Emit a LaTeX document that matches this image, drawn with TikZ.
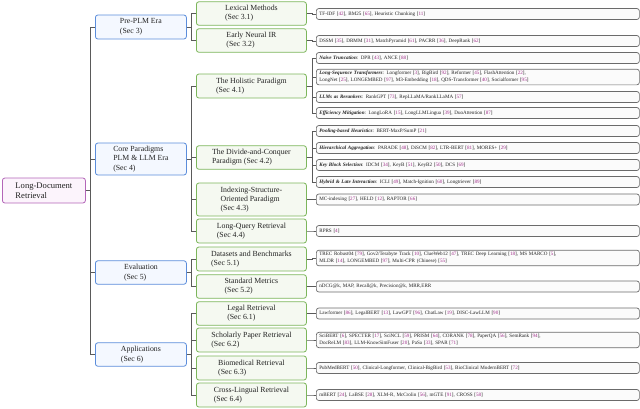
\documentclass[tikz,border=0pt]{standalone}
\usepackage{fontspec}
\setmainfont{Liberation Serif}
\usepackage{xcolor}
\definecolor{ink}{HTML}{222222}
\definecolor{wire}{HTML}{5A5A5A}
\definecolor{rootline}{HTML}{B366B8}
\definecolor{rootfill}{HTML}{FCF4FC}
\definecolor{eraline}{HTML}{5B8DDB}
\definecolor{erafill}{HTML}{F4F8FF}
\definecolor{secline}{HTML}{7CB65B}
\definecolor{secfill}{HTML}{F5F9F1}
\definecolor{leafline}{HTML}{6B6B6B}
\definecolor{leaffill}{HTML}{FBFBFB}
\definecolor{citenum}{HTML}{A0308A}
\usepackage{tikz}
\usetikzlibrary{positioning,calc}
\newcommand{\ct}[1]{[\textcolor{citenum}{#1}]}
\newcommand{\hd}[1]{\textbf{\textit{#1}}}

\begin{document}
\begin{tikzpicture}[x=1pt,y=-1pt,
  box/.style={draw,rounded corners=2.5pt,line width=0.8pt,align=left,inner sep=1pt,text=ink},
  rootbox/.style={box,draw=rootline,fill=rootfill,minimum width=83pt,minimum height=25pt,font=\fontsize{8.6}{10.5}\selectfont},
  erabox/.style={box,draw=eraline,fill=erafill,minimum width=91pt,font=\fontsize{7.8}{9.5}\selectfont},
  secbox/.style={box,draw=secline,fill=secfill,minimum width=110pt,font=\fontsize{7.8}{9.2}\selectfont},
  leaf/.style={draw=leafline,fill=leaffill,rounded corners=2.5pt,line width=0.7pt,text=ink,
    text width=317pt,align=left,inner xsep=3pt,inner ysep=2pt,minimum height=11pt,font=\fontsize{5.1}{7}\selectfont},
  wire/.style={draw=wire,line width=0.6pt}]
  \useasboundingbox (0,0) rectangle (640,408);
  % root
  \node[rootbox,anchor=west] (root) at (2,190.5) {Long-Document\\Retrieval};
  % eras
  \foreach \nm/\y/\h/\txt in {
    pre/27/24/{Pre-PLM Era\\(Sec 3)},
    core/159/32/{Core Paradigms\\PLM \& LLM Era\\(Sec 4)},
    eval/272.5/23.5/{Evaluation\\(Sec 5)},
    app/354.5/23.5/{Applications\\(Sec 6)}} {
    \node[erabox,anchor=west,minimum height=\h] (\nm) at (95,\y) {\txt};
    \draw[wire] (root.east) -- ++(4,0) |- (\nm.west);
  }
  % sections
  \foreach \nm/\up/\y/\h/\txt in {
    lex/pre/13.5/23.5/{Lexical Methods\\(Sec 3.1)},
    eni/pre/40.5/23.5/{Early Neural IR\\(Sec 3.2)},
    hol/core/86/24/{The Holistic Paradigm\\(Sec 4.1)},
    dac/core/157.5/23.5/{The Divide-and-Conquer\\Paradigm (Sec 4.2)},
    iso/core/199.5/33/{Indexing-Structure-\\Oriented Paradigm\\(Sec 4.3)},
    lqr/core/231/24/{Long-Query Retrieval\\(Sec 4.4)},
    dab/eval/259/24/{Datasets and Benchmarks\\(Sec 5.1)},
    stm/eval/286.5/23.5/{Standard Metrics\\(Sec 5.2)},
    leg/app/313.5/23.5/{Legal Retrieval\\(Sec 6.1)},
    sch/app/340/24/{Scholarly Paper Retrieval\\(Sec 6.2)},
    bio/app/368/24/{Biomedical Retrieval\\(Sec 6.3)},
    crl/app/395/24/{Cross-Lingual Retrieval\\(Sec 6.4)}} {
    \node[secbox,anchor=west,minimum height=\h] (\nm) at (196,\y) {\txt};
    \draw[wire] (\up.east) -- ++(4,0) |- (\nm.west);
  }
  % leaves
  \foreach \nm/\up/\y/\txt in {
    lexL/lex/14/{TF-IDF \ct{42}, BM25 \ct{65}, Heuristic Chunking \ct{11}},
    eniL/eni/41/{DSSM \ct{35}, DRMM \ct{31}, MatchPyramid \ct{61}, PACRR \ct{36}, DeepRank \ct{62}},
    naive/hol/58/{\hd{Naive Truncation}: DPR \ct{43}, ANCE \ct{88}},
    lseq/hol/77/{\hd{Long-Sequence Transformers}: Longformer \ct{3}, BigBird \ct{92}, Reformer \ct{45}, FlashAttention \ct{22},\\
      LongNet \ct{25}, LONGEMBED \ct{97}, M3-Embedding \ct{18}, QDS-Transformer \ct{40}, Socialformer \ct{95}},
    rrk/hol/97/{\hd{LLMs as Rerankers}: RankGPT \ct{73}, RepLLaMA/RankLLaMA \ct{57}},
    effm/hol/113/{\hd{Efficiency Mitigation}: LongLoRA \ct{15}, LongLLMLingua \ct{39}, DuoAttention \ct{87}},
    pool/dac/131/{\hd{Pooling-based Heuristics}: BERT-MaxP/SumP \ct{21}},
    hier/dac/148/{\hd{Hierarchical Aggregation}: PARADE \ct{48}, DiSCM \ct{82}, LTR-BERT \ct{81}, MORES+ \ct{29}},
    keyb/dac/165/{\hd{Key Block Selection}: IDCM \ct{34}, KeyB \ct{51}, KeyB2 \ct{50}, DCS \ct{69}},
    hyb/dac/182/{\hd{Hybrid \& Late Interaction}: ICLI \ct{49}, Match-Ignition \ct{60}, Longtriever \ct{89}},
    mci/iso/199.5/{MC-indexing \ct{27}, HELD \ct{12}, RAPTOR \ct{66}},
    rprs/lqr/231/{RPRS \ct{4}},
    trec/dab/258/{TREC Robust04 \ct{79}, Gov2/Terabyte Track \ct{10}, ClueWeb12 \ct{47}, TREC Deep Learning \ct{18}, MS MARCO \ct{5},\\
      MLDR \ct{14}, LONGEMBED \ct{97}, Multi-CPR (Chinese) \ct{55}},
    ndcg/stm/286.5/{nDCG@k, MAP, Recall@k, Precision@k, MRR,ERR},
    lawL/leg/313.5/{Lawformer \ct{86}, LegalBERT \ct{13}, LawGPT \ct{96}, ChatLaw \ct{19}, DISC-LawLLM \ct{90}},
    sciL/sch/340/{SciBERT \ct{6}, SPECTER \ct{17}, SciNCL \ct{59}, PRISM \ct{64}, CORANK \ct{78}, PaperQA \ct{56}, SemRank \ct{94},\\
      DocReLM \ct{83}, LLM-KnowSimFuser \ct{20}, PaSa \ct{33}, SPAR \ct{71}},
    bioL/bio/368/{PubMedBERT \ct{50}, Clinical-Longformer, Clinical-BigBird \ct{53}, BioClinical ModernBERT \ct{72}},
    crlL/crl/395/{mBERT \ct{24}, LaBSE \ct{28}, XLM-R, McCrolin \ct{56}, mGTE \ct{91}, CROSS \ct{58}}} {
    \node[leaf,anchor=west] (\nm) at (316,\y) {\txt};
    \draw[wire] (\up.east) -- ++(5,0) |- (\nm.west);
  }
\end{tikzpicture}
\end{document}
